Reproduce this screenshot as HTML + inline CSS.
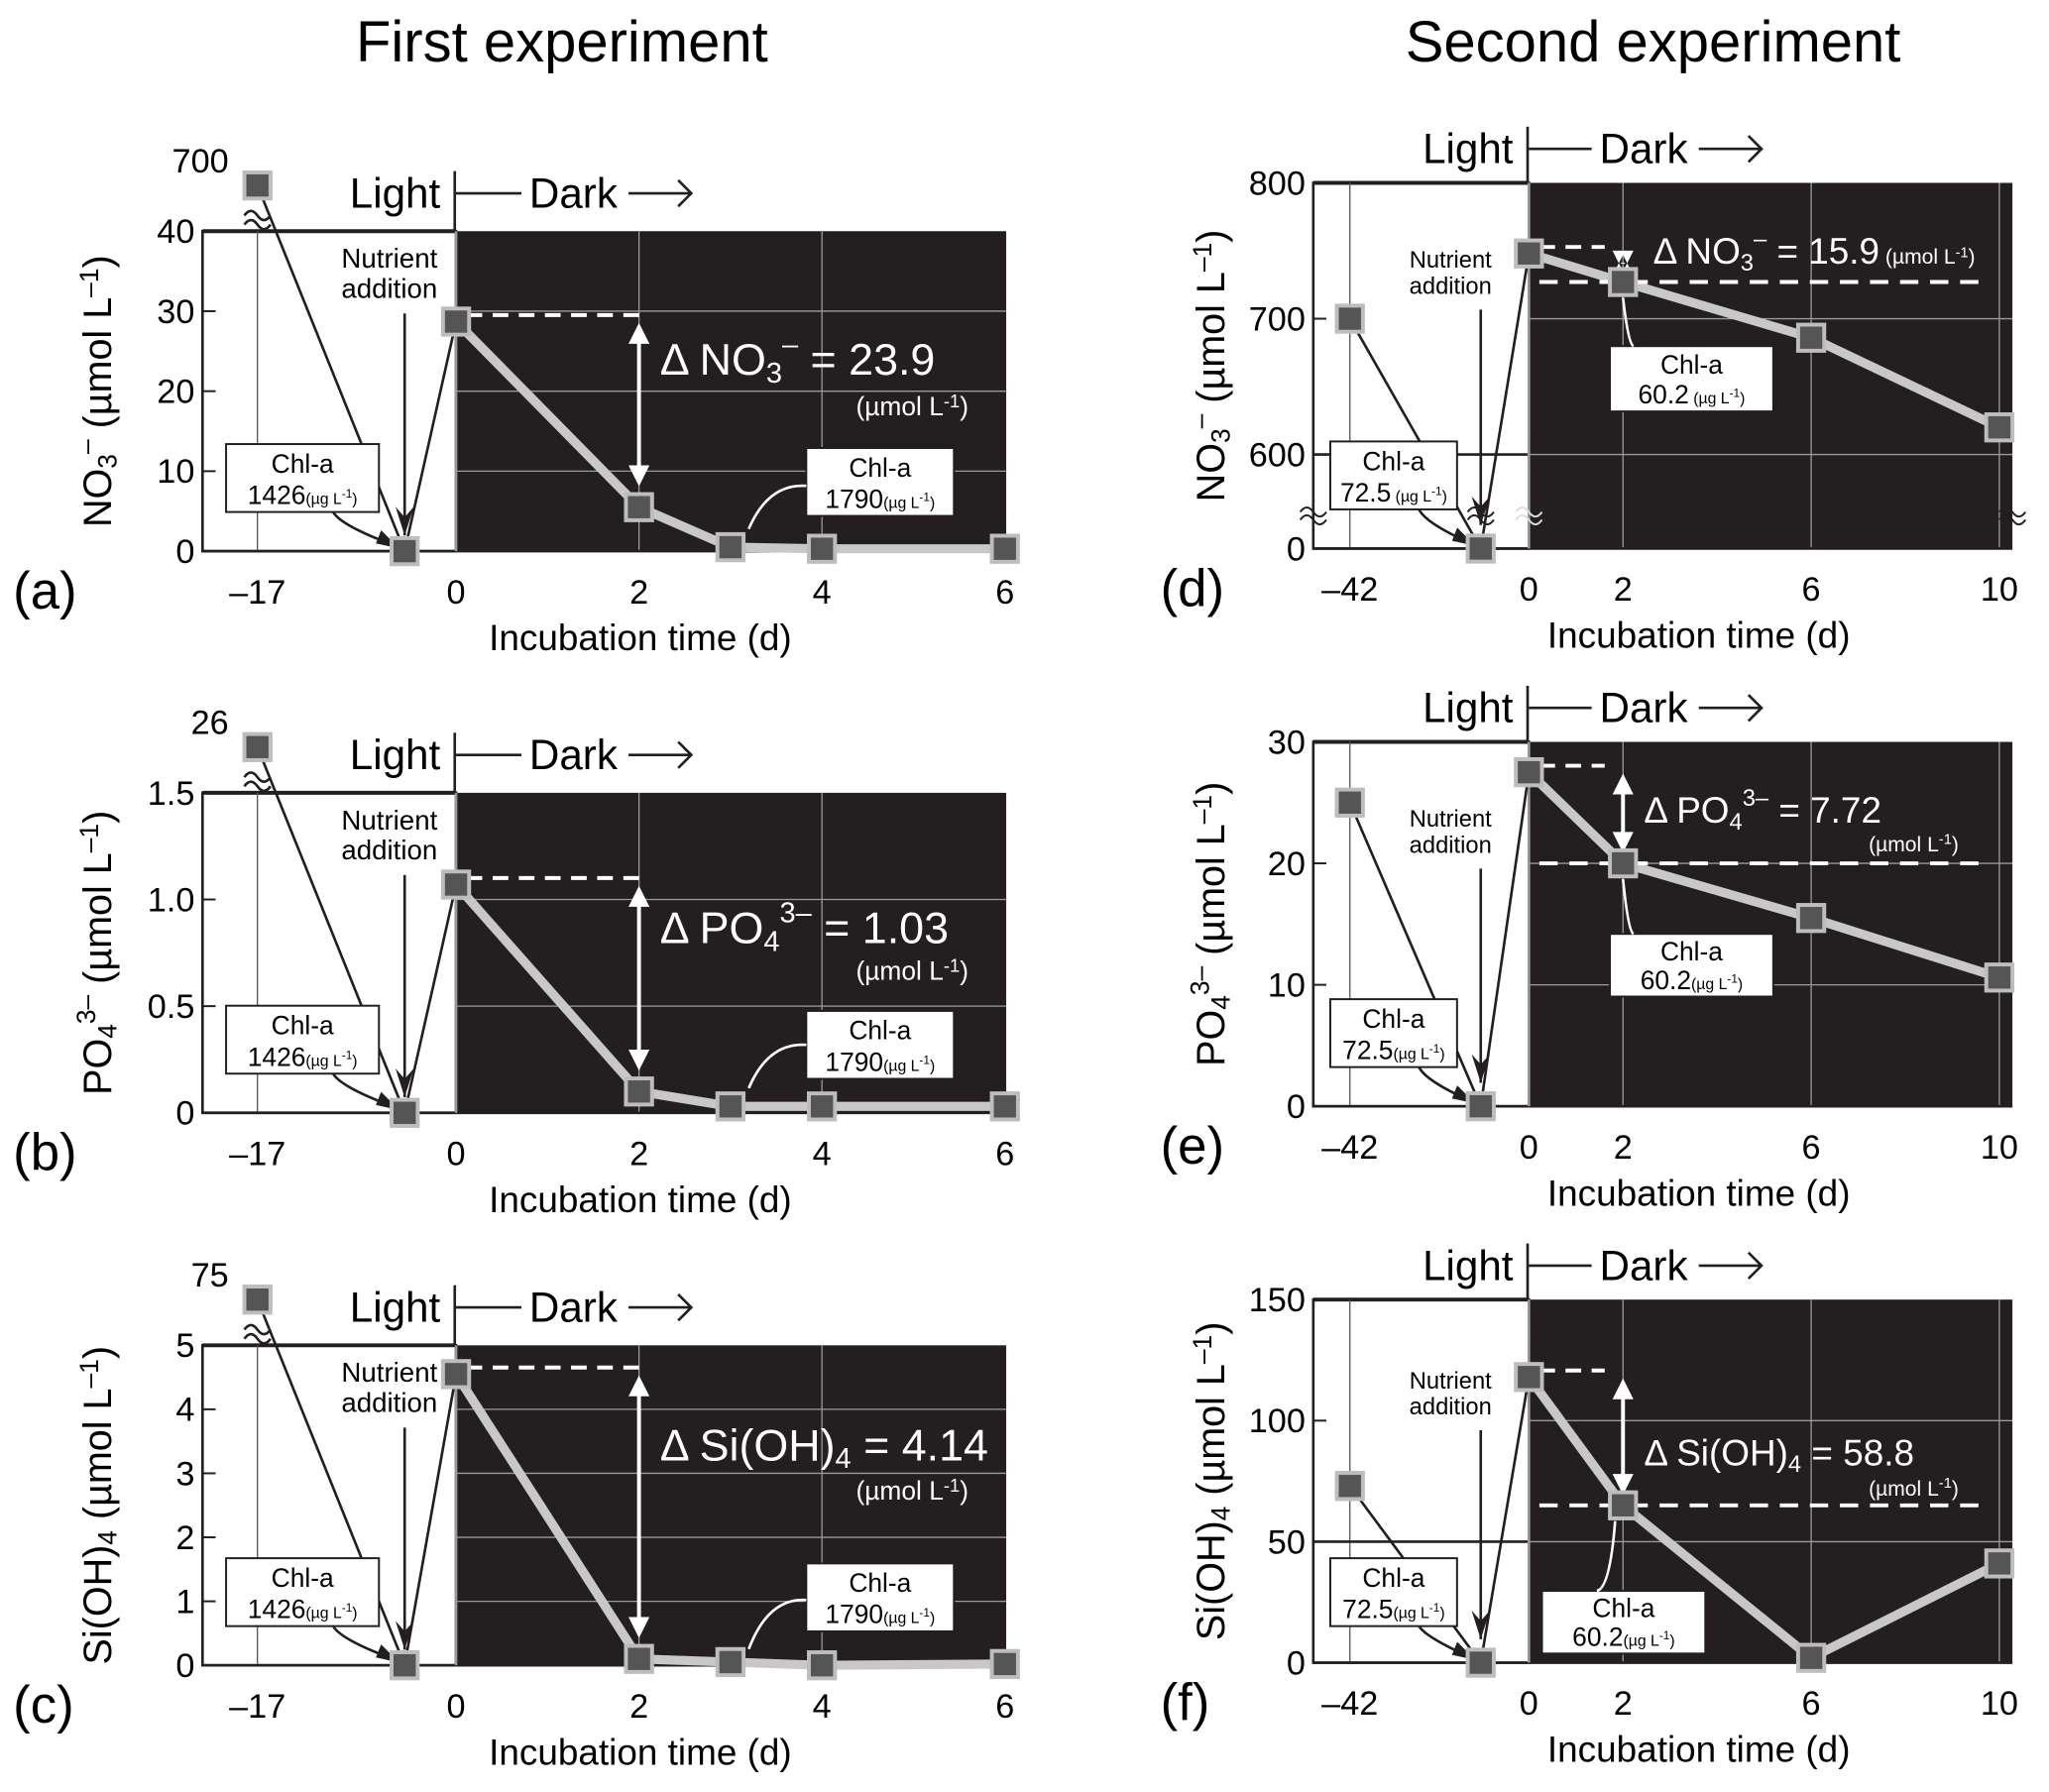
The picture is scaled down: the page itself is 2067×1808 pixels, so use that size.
<!DOCTYPE html>
<html><head><meta charset="utf-8">
<style>
html,body{margin:0;padding:0;background:#fff;}
svg{display:block;font-family:"Liberation Sans",sans-serif;}
</style></head>
<body>
<svg id="fig" width="2067" height="1808" viewBox="0 0 1568 1372" preserveAspectRatio="none" xmlns="http://www.w3.org/2000/svg">
<text x="430" y="47" font-size="44" text-anchor="middle">First experiment</text>
<text x="1265" y="47" font-size="44" text-anchor="middle">Second experiment</text>
</svg>
<script>
// ---- data ----
const leftTimes = [-17, -4.4, 0, 2, 3, 4, 6];
const rightTimes = [-42, -11.3, 0, 2, 6, 10];
const aValues = [700, 0, 28.7, 5.5, 0.5, 0.3, 0.3];
const bValues = [26, 0, 1.07, 0.1, 0.03, 0.03, 0.03];
const cValues = [75, 0, 4.55, 0.1, 0.05, 0.0, 0.02];
const dValues = [700, 0, 748, 727, 686, 620];
const eValues = [25, 0, 27.5, 20, 15.5, 10.6];
const fValues = [73, 0, 118, 65, 2, 41];
const leftXTicks = [-17, 0, 2, 4, 6];
const rightXTicks = [-42, 0, 2, 6, 10];
const aYTicks = [0, 10, 20, 30, 40];
const bYTicks = [0, 0.5, 1.0, 1.5];
const bYLabels = ["0", "0.5", "1.0", "1.5"];
const cYTicks = [0, 1, 2, 3, 4, 5];
const dYTicks = [0, 600, 700, 800];
const eYTicks = [0, 10, 20, 30];
const fYTicks = [0, 50, 100, 150];
const deltas = ["23.9", "1.03", "4.14", "15.9", "7.72", "58.8"];
const chlLeft = ["1426", "72.5"];
const chlRight = ["1790", "60.2"];

const NS = "http://www.w3.org/2000/svg";
const svg = document.getElementById('fig');
function el(tag, attrs, parent, text) {
  const e = document.createElementNS(NS, tag);
  for (const k in attrs) e.setAttribute(k, attrs[k]);
  if (text !== undefined) e.textContent = text;
  (parent || svg).appendChild(e);
  return e;
}
function tx(parent, x, y, size, s, opts) {
  const t = el('text', Object.assign({x: x, y: y, 'font-size': size}, opts || {}), parent);
  t.innerHTML = s;
  return t;
}

function drawPanel(c) {
  const g = el('g', {}, svg);
  
  
  const X = t => t < 0 ? c.x0 + t * c.lightScale : c.x0 + t * c.darkScale;
  const Y = v => {
    if (c.brk === 'left') {
      if (v > c.ymax) return c.top - 35;
      return c.bottom - v / c.ymax * (c.bottom - c.top);
    }
    if (c.brk === 'right') {
      if (v >= 500) return c.top + (800 - v) / 200 * (c.y600 - c.top);
      return c.bottom - v;
    }
    return c.bottom - v / c.ymax * (c.bottom - c.top);
  };
  // dark background
  const bg = el('rect', {x: c.x0, y: c.top, width: c.right - c.x0, height: c.bottom - c.top, fill: '#231f20'}, g);
  
  
  // light box
  el('rect', {x: c.left, y: c.top, width: c.x0 - c.left, height: c.bottom - c.top, fill: '#fff', stroke: '#231f20', 'stroke-width': 2}, g);
  el('line', {x1: c.left, y1: c.top, x2: c.x0, y2: c.top, stroke: '#231f20', 'stroke-width': 3}, g);
  // grid
  c.xTicks.forEach(t => {
    const x = X(t);
    if (t < 0) el('line', {x1: x, y1: c.top, x2: x, y2: c.bottom, stroke: '#555', 'stroke-width': 1}, g);
    else if (t > 0 && x < c.right - 5) el('line', {x1: x, y1: c.top, x2: x, y2: c.bottom, stroke: '#999', 'stroke-width': 1}, g);
    const lab = el('text', {x: x, y: c.bottom + 40, 'font-size': 26, 'text-anchor': 'middle'}, g, t < 0 ? '\u2013' + (-t) : String(t));
    
    
  });
  c.yTicks.forEach((v, i) => {
    const y = Y(v);
    if (v > 0 && Math.abs(y - c.top) > 3) {
      el('line', {x1: c.x0, y1: y, x2: c.right, y2: y, stroke: '#999', 'stroke-width': 1}, g);
      el('line', {x1: c.left, y1: y, x2: c.left + 10, y2: y, stroke: '#231f20', 'stroke-width': 1.5}, g);
    }
    const lab = el('text', {x: c.left - 6, y: y + 9, 'font-size': 26, 'text-anchor': 'end'}, g, c.yLabels ? c.yLabels[i] : String(v));
    
    
  });
  if (c.lightLine !== undefined) el('line', {x1: c.left, y1: Y(c.lightLine), x2: c.x0, y2: Y(c.lightLine), stroke: '#231f20', 'stroke-width': 2}, g);
  el('line', {x1: c.left, y1: c.bottom, x2: c.right, y2: c.bottom, stroke: '#231f20', 'stroke-width': 2}, g);
  el('line', {x1: c.x0, y1: c.top, x2: c.x0, y2: c.bottom, stroke: '#999', 'stroke-width': 2}, g);
  // header
  el('line', {x1: c.x0 - 1, y1: c.top - c.hdr - 28, x2: c.x0 - 1, y2: c.top, stroke: '#231f20', 'stroke-width': 2}, g);
  tx(g, c.x0 - 12, c.top - c.hdr, 32, 'Light', {'text-anchor': 'end'});
  el('line', {x1: c.x0, y1: c.top - c.hdr - 11, x2: c.x0 + c.hdrLine, y2: c.top - c.hdr - 11, stroke: '#231f20', 'stroke-width': 2}, g);
  tx(g, c.x0 + c.hdrLine + 6, c.top - c.hdr, 32, 'Dark');
  const ax = c.x0 + c.hdrLine + 82;
  el('path', {d: `M${ax} ${c.top - c.hdr - 11}H${ax + 48}M${ax + 38} ${c.top - c.hdr - 21}L${ax + 48} ${c.top - c.hdr - 11}L${ax + 38} ${c.top - c.hdr - 1}`, stroke: '#231f20', 'stroke-width': 2, fill: 'none'}, g);
  // axis label
  const yl = tx(g, 0, 0, 30, c.ylabel, {transform: `translate(${c.left - c.ylabOff},${(c.top + c.bottom) / 2}) rotate(-90)`, 'text-anchor': 'middle'});
  
  
  const xl = tx(g, c.xlabX, c.bottom + 76, 28, 'Incubation time (d)', {'text-anchor': 'middle'});
  
  
  const pl = tx(g, c.left - (c.brk === 'left' ? 145 : 117), c.bottom + 44, 40, '(' + c.id + ')');
  
  
  // series
  const v = c.values, t = c.times;
  const P = t.map((tt, i) => [X(tt), Y(v[i])]);
  let dp = '';
  for (let i = 2; i < P.length; i++) dp += (i === 2 ? 'M' : 'L') + P[i][0] + ' ' + P[i][1];
  const dl = el('path', {d: dp, stroke: '#c8c8c8', 'stroke-width': 7, fill: 'none', 'stroke-linejoin': 'round'}, g);
  
  
  el('path', {d: `M${P[0][0]} ${P[0][1]}L${P[1][0]} ${P[1][1]}L${P[2][0]} ${P[2][1]}`, stroke: '#231f20', 'stroke-width': 2, fill: 'none'}, g);
  // break marks
  if (c.brk === 'left') {
    const bx = P[0][0], by = c.top - 12;
    el('path', {d: `M${bx - 10} ${by}q5 -7 10 0t10 0M${bx - 10} ${by + 7}q5 -7 10 0t10 0`, stroke: '#231f20', 'stroke-width': 2, fill: '#fff'}, g);
    tx(g, bx - 22, c.top - 45, 26, c.outlierLabel, {'text-anchor': 'end'});
  } else if (c.brk === 'right') {
    [c.left, P[1][0], c.x0, c.right].forEach(bx => {
      el('path', {d: `M${bx - 10} ${c.bottom - 28}q5 -7 10 0t10 0M${bx - 10} ${c.bottom - 22}q5 -7 10 0t10 0`, stroke: bx === c.x0 ? '#ddd' : '#231f20', 'stroke-width': 1.5, fill: 'none'}, g);
    });
  }
  // nutrient annotation
  tx(g, c.nx, c.top + c.nty, c.nfs, 'Nutrient', {'text-anchor': 'middle'});
  tx(g, c.nx, c.top + c.nty + c.nfs + 2, c.nfs, 'addition', {'text-anchor': 'middle'});
  const ay1 = c.top + c.nty + c.nfs + 14, ay2 = c.bottom - c.narrowEnd;
  el('path', {d: `M${P[1][0]} ${ay1}V${ay2}`, stroke: '#231f20', 'stroke-width': 2}, g);
  el('path', {d: `M${P[1][0] - 7} ${ay2 - 22}L${P[1][0]} ${ay2}L${P[1][0] + 7} ${ay2 - 22}L${P[1][0]} ${ay2 - 14}Z`, fill: '#231f20'}, g);
  // left chl box
  const lb = c.lbox;
  el('rect', {x: lb[0], y: c.top + lb[1], width: lb[2], height: 52, fill: '#fff', stroke: '#231f20', 'stroke-width': 1.5}, g);
  tx(g, lb[0] + lb[2] / 2, c.top + lb[1] + 22, 20, 'Chl-a', {'text-anchor': 'middle'});
  tx(g, lb[0] + lb[2] / 2, c.top + lb[1] + 46, 20, c.chlL + '<tspan font-size="12">' + (c.brk === 'right' ? ' ' : '') + '(µg L<tspan dy="-5" font-size="9">-1</tspan><tspan dy="5">)</tspan></tspan>', {'text-anchor': 'middle'});
  el('path', {d: `M${lb[0] + lb[2] * 0.7} ${c.top + lb[1] + 52}Q${lb[0] + lb[2] * 0.75} ${c.bottom - 20} ${P[1][0] - 12} ${c.bottom - 6}`, stroke: '#231f20', 'stroke-width': 2, fill: 'none'}, g);
  el('path', {d: `M${P[1][0] - 4} ${c.bottom - 2}l-18 -4l4 -10z`, fill: '#231f20'}, g);
  // right chl box
  const rb = c.rbox;
  el('rect', {x: rb[0], y: rb[1], width: rb[2], height: rb[3], fill: '#fff', stroke: '#231f20', 'stroke-width': 1.5}, g);
  tx(g, rb[0] + rb[2] / 2, rb[1] + rb[3] * 0.42, 20, 'Chl-a', {'text-anchor': 'middle'});
  tx(g, rb[0] + rb[2] / 2, rb[1] + rb[3] * 0.88, 20, c.chlR + '<tspan font-size="12">' + (c.brk === 'right' ? ' ' : '') + '(µg L<tspan dy="-5" font-size="9">-1</tspan><tspan dy="5">)</tspan></tspan>', {'text-anchor': 'middle'});
  const tgt = P[c.rTarget];
  el('path', {d: `M${c.rArrowFrom[0]} ${c.rArrowFrom[1]}Q${(c.rArrowFrom[0] + tgt[0]) / 2} ${c.rArrowFrom[1] - 2} ${tgt[0] + c.rArrowOff[0]} ${tgt[1] + c.rArrowOff[1]}`, stroke: '#fff', 'stroke-width': 2, fill: 'none'}, g);
  // dashed and delta arrow
  const yHi = Y(v[2]) - 5, yLo = Y(v[3]);
  el('line', {x1: c.x0 + 8, y1: yHi, x2: c.dashEnd1, y2: yHi, stroke: '#fff', 'stroke-width': 3, 'stroke-dasharray': '12 8'}, g);
  const ax2 = X(2);
  if (c.dashEnd2) el('line', {x1: c.x0 + 8, y1: yLo, x2: c.dashEnd2, y2: yLo, stroke: '#fff', 'stroke-width': 3, 'stroke-dasharray': '14 9'}, g);
  const aTop = yHi + 6, aBot = c.brk === 'left' ? yLo - 16 : yLo - 8;
  el('path', {d: `M${ax2} ${aTop + 6}V${aBot - 6}`, stroke: '#fff', 'stroke-width': 3}, g);
  el('path', {d: `M${ax2 - 8} ${aTop + 16}L${ax2} ${aTop}L${ax2 + 8} ${aTop + 16}ZM${ax2 - 8} ${aBot - 16}L${ax2} ${aBot}L${ax2 + 8} ${aBot - 16}Z`, fill: '#fff'}, g);
  const dt = tx(g, c.dx, c.dy, c.dfs, c.dlabel + c.delta, {fill: '#fff'});
  
  
  tx(g, c.ux, c.uy, c.ufs, '(µmol L<tspan dy="-6" font-size="' + (c.ufs * 0.7) + '">-1</tspan><tspan dy="6">)</tspan>', {fill: '#fff'});
  // points
  P.forEach((p, i) => {
    const r = el('rect', {x: p[0] - 10, y: p[1] - 10, width: 20, height: 20, fill: '#555', stroke: '#bdbdbd', 'stroke-width': 3}, g);
    
    
  });
}

const NO3 = 'NO<tspan font-size="20" dy="4">3</tspan><tspan dy="-16" font-size="20">–</tspan><tspan dy="12"> </tspan>';
const PO4 = 'PO<tspan font-size="20" dy="4">4</tspan><tspan dy="-16" font-size="20">3–</tspan><tspan dy="12"> </tspan>';
const SI = 'Si(OH)<tspan font-size="20" dy="4">4</tspan><tspan dy="-4"> </tspan>';

const L = {left: 155, right: 770, x0: 349, lightScale: 152 / 17, darkScale: 70, brk: 'left', hdr: 18, hdrLine: 50,
  times: leftTimes, xTicks: leftXTicks, ylabOff: 70, xlabX: 490, nx: 298, nty: 28, nfs: 21, narrowEnd: 12,
  lbox: [173, 163, 117], chlL: chlLeft[0], chlR: chlRight[0], rTarget: 4, dashEnd1: 495, dashEnd2: 0,
  dx: 505, dfs: 34, ux: 655, ufs: 20};
const R = {left: 1005, right: 1540, x0: 1170, lightScale: 137 / 42, darkScale: 36, hdr: 15, hdrLine: 48,
  times: rightTimes, xTicks: rightXTicks, ylabOff: 68, xlabX: 1300, nx: 1110, nfs: 18, narrowEnd: 18,
  lbox: [1018, 0, 97], chlL: chlLeft[1], chlR: chlRight[1], rTarget: 3, dashEnd1: 1228, dashEnd2: 1522,
  dfs: 28, ufs: 16};

drawPanel(Object.assign({}, L, {id: 'a', top: 177, bottom: 422, ymax: 40, values: aValues, yTicks: aYTicks, outlierLabel: '700',
  ylabel: NO3 + ' (µmol L<tspan dy="-10" font-size="20">–1</tspan><tspan dy="10">)</tspan>', dlabel: 'Δ NO<tspan font-size="22" dy="6">3</tspan><tspan dy="-22" font-size="22">–</tspan><tspan dy="16">  = </tspan>', delta: deltas[0],
  dy: 287, uy: 318, rbox: [617, 343, 113, 52], rArrowFrom: [617, 372], rArrowOff: [14, -14]}));
drawPanel(Object.assign({}, L, {id: 'b', top: 607, bottom: 852, ymax: 1.5, values: bValues, yTicks: bYTicks, yLabels: bYLabels, outlierLabel: '26',
  ylabel: PO4 + ' (µmol L<tspan dy="-10" font-size="20">–1</tspan><tspan dy="10">)</tspan>', dlabel: 'Δ PO<tspan font-size="22" dy="6">4</tspan><tspan dy="-22" font-size="22">3–</tspan><tspan dy="16">  = </tspan>', delta: deltas[1],
  dy: 722, uy: 750, rbox: [617, 774, 113, 52], rArrowFrom: [617, 800], rArrowOff: [14, -14]}));
drawPanel(Object.assign({}, L, {id: 'c', top: 1030, bottom: 1275, ymax: 5, values: cValues, yTicks: cYTicks, outlierLabel: '75',
  ylabel: SI + '(µmol L<tspan dy="-10" font-size="20">–1</tspan><tspan dy="10">)</tspan>', dlabel: 'Δ Si(OH)<tspan font-size="22" dy="6">4</tspan><tspan dy="-6"> = </tspan>', delta: deltas[2],
  dy: 1118, uy: 1148, rbox: [617, 1197, 113, 52], rArrowFrom: [617, 1225], rArrowOff: [14, -10]}));
drawPanel(Object.assign({}, R, {id: 'd', top: 140, bottom: 420, y600: 348, brk: 'right', values: dValues, yTicks: dYTicks, lightLine: 600, nty: 65,
  lbox: [1018, 198, 97],
  ylabel: NO3 + ' (µmol L<tspan dy="-10" font-size="20">–1</tspan><tspan dy="10">)</tspan>', dlabel: 'Δ NO<tspan font-size="18" dy="5">3</tspan><tspan dy="-18" font-size="18">–</tspan><tspan dy="13">  = </tspan>', delta: deltas[3] + '<tspan font-size="16">  (µmol L<tspan dy="-5" font-size="11">-1</tspan><tspan dy="5">)</tspan></tspan>',
  dx: 1265, dy: 202, ux: -999, uy: -999, rbox: [1232, 265, 125, 50], rArrowFrom: [1250, 265], rArrowOff: [0, 12]}));
drawPanel(Object.assign({}, R, {id: 'e', top: 568, bottom: 847, ymax: 30, values: eValues, yTicks: eYTicks, nty: 65,
  lbox: [1018, 197, 97],
  ylabel: PO4 + ' (µmol L<tspan dy="-10" font-size="20">–1</tspan><tspan dy="10">)</tspan>', dlabel: 'Δ PO<tspan font-size="18" dy="5">4</tspan><tspan dy="-18" font-size="18">3–</tspan><tspan dy="13">  = </tspan>', delta: deltas[4],
  dx: 1258, dy: 630, ux: 1430, uy: 652, rbox: [1232, 715, 125, 48], rArrowFrom: [1250, 715], rArrowOff: [0, 12]}));
drawPanel(Object.assign({}, R, {id: 'f', top: 995, bottom: 1273, ymax: 150, values: fValues, yTicks: fYTicks, lightLine: 50, nty: 68,
  lbox: [1018, 198, 97],
  ylabel: SI + '(µmol L<tspan dy="-10" font-size="20">–1</tspan><tspan dy="10">)</tspan>', dlabel: 'Δ Si(OH)<tspan font-size="18" dy="5">4</tspan><tspan dy="-5"> = </tspan>', delta: deltas[5],
  dx: 1258, dy: 1122, ux: 1430, uy: 1145, rbox: [1180, 1218, 125, 48], rArrowFrom: [1222, 1218], rArrowOff: [-6, 12]}));
</script>
</body></html>
